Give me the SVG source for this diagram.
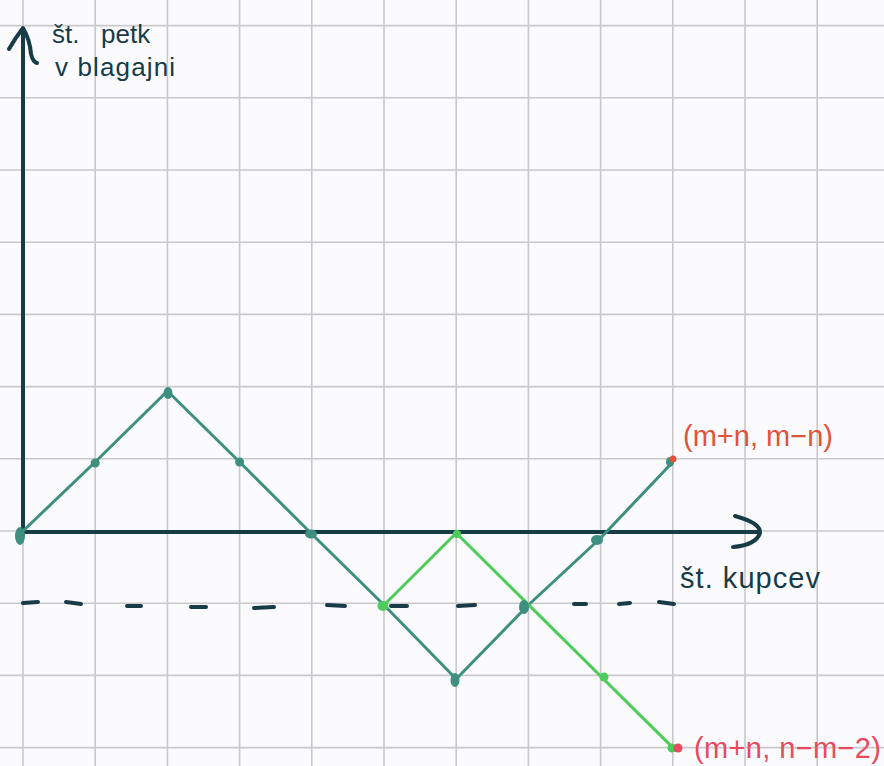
<svg xmlns="http://www.w3.org/2000/svg" width="884" height="766" viewBox="0 0 884 766">
<defs>
<style>
.grid line{stroke:#c9c9cb;stroke-width:1.6}
.axis{stroke:#173c48;stroke-width:4;fill:none;stroke-linecap:round;stroke-linejoin:round}
.teal{stroke:#3e8f80;stroke-width:3;fill:none;stroke-linejoin:round}
.green{stroke:#4dcc5c;stroke-width:3;fill:none;stroke-linejoin:round}
.dash line{stroke:#173c48;stroke-width:4;stroke-linecap:round}
.dt{fill:#3e8f80}
.dg{fill:#4dcc5c}
.dr{fill:#e0533d}
.dp{fill:#e84a5f}
.lbl{font-family:"Liberation Sans",Arial,sans-serif;font-size:29px}
.ax{font-size:26px}
.dark{fill:#173c48}
</style>
</defs>
<rect width="884" height="766" fill="#fbfbfd"/>
<g id="grid" class="grid">
<line x1="23" y1="0" x2="23" y2="766"/>
<line x1="95.2" y1="0" x2="95.2" y2="766"/>
<line x1="167.4" y1="0" x2="167.4" y2="766"/>
<line x1="239.6" y1="0" x2="239.6" y2="766"/>
<line x1="311.8" y1="0" x2="311.8" y2="766"/>
<line x1="384" y1="0" x2="384" y2="766"/>
<line x1="456.2" y1="0" x2="456.2" y2="766"/>
<line x1="528.4" y1="0" x2="528.4" y2="766"/>
<line x1="600.6" y1="0" x2="600.6" y2="766"/>
<line x1="672.8" y1="0" x2="672.8" y2="766"/>
<line x1="745" y1="0" x2="745" y2="766"/>
<line x1="817.2" y1="0" x2="817.2" y2="766"/>
<line x1="0" y1="25.6" x2="884" y2="25.6"/>
<line x1="0" y1="97.8" x2="884" y2="97.8"/>
<line x1="0" y1="170" x2="884" y2="170"/>
<line x1="0" y1="242.2" x2="884" y2="242.2"/>
<line x1="0" y1="314.4" x2="884" y2="314.4"/>
<line x1="0" y1="386.6" x2="884" y2="386.6"/>
<line x1="0" y1="458.8" x2="884" y2="458.8"/>
<line x1="0" y1="531" x2="884" y2="531"/>
<line x1="0" y1="603.2" x2="884" y2="603.2"/>
<line x1="0" y1="675.4" x2="884" y2="675.4"/>
<line x1="0" y1="747.6" x2="884" y2="747.6"/>
</g>
<g id="dashed-level" class="dash">
<line x1="23" y1="603" x2="38" y2="602"/>
<line x1="66" y1="602" x2="81" y2="604"/>
<line x1="127" y1="606" x2="141" y2="606"/>
<line x1="191" y1="607" x2="206" y2="607"/>
<line x1="254" y1="608" x2="274" y2="607"/>
<line x1="327" y1="605" x2="345" y2="606"/>
<line x1="391" y1="606" x2="407" y2="606"/>
<line x1="458" y1="606" x2="475" y2="605"/>
<line x1="574" y1="604" x2="586" y2="604"/>
<line x1="619" y1="604" x2="630" y2="603"/>
<line x1="659" y1="602" x2="674" y2="604"/>
</g>
<g id="axes">
<path id="y-axis" class="axis" d="M23 535 L23 30"/>
<path class="axis" d="M9 49 Q16 37 23 28 Q30 40 31 54 Q33 62 37 63"/>
<path id="x-axis" class="axis" d="M23 532 L758 532"/>
<path class="axis" d="M735 516 Q761 523 760 533 Q756 545 733 547"/>
</g>
<g id="connectors">
<polyline id="path-original" class="teal" points="23,531 95.2,462 167.4,391 239.6,462 311.8,534 384,605 456.2,679 528.4,605 600.6,538 672.8,462"/>
<polyline id="path-reflected" class="green" points="384,605 456.2,533 672.8,747.6"/>
</g>
<g id="nodes">
<g id="n0"><ellipse class="dt" cx="20" cy="536" rx="5" ry="9"/></g>
<g id="n1"><circle class="dt" cx="95.2" cy="463" r="4.5"/></g>
<g id="n2"><ellipse class="dt" cx="168" cy="393" rx="4.5" ry="6"/></g>
<g id="n3"><circle class="dt" cx="239.6" cy="462" r="4.5"/></g>
<g id="n4"><ellipse class="dt" cx="311" cy="534" rx="6" ry="4.5"/></g>
<g id="n5"><ellipse class="dg" cx="383" cy="606" rx="5.5" ry="5"/></g>
<g id="n6"><ellipse class="dt" cx="455" cy="680" rx="4.5" ry="7"/></g>
<g id="n7"><ellipse class="dt" cx="524" cy="607" rx="5" ry="7"/></g>
<g id="n8"><ellipse class="dt" cx="597" cy="540" rx="6" ry="5"/></g>
<g id="n9"><ellipse class="dt" cx="670" cy="462" rx="4" ry="5"/><circle class="dr" cx="673" cy="459" r="3.5"/></g>
<g id="g6"><circle class="dg" cx="457" cy="534" r="4"/></g>
<g id="g8"><circle class="dg" cx="604" cy="677" r="4.5"/></g>
<g id="g9"><circle class="dg" cx="672" cy="748" r="4.5"/><circle class="dp" cx="678" cy="748" r="4.5"/></g>
</g>
<g id="labels">
<text class="lbl ax dark" x="52" y="43" xml:space="preserve">št.   petk</text>
<text class="lbl ax dark" x="55" y="76" textLength="120" lengthAdjust="spacing">v blagajni</text>
<text class="lbl dark" x="680" y="588" textLength="140" lengthAdjust="spacing">št. kupcev</text>
<text class="lbl" fill="#e0533d" x="683" y="446" textLength="150" lengthAdjust="spacing">(m+n, m−n)</text>
<text class="lbl" fill="#e84a5f" x="694" y="758" textLength="187" lengthAdjust="spacing">(m+n, n−m−2)</text>
</g>
</svg>
